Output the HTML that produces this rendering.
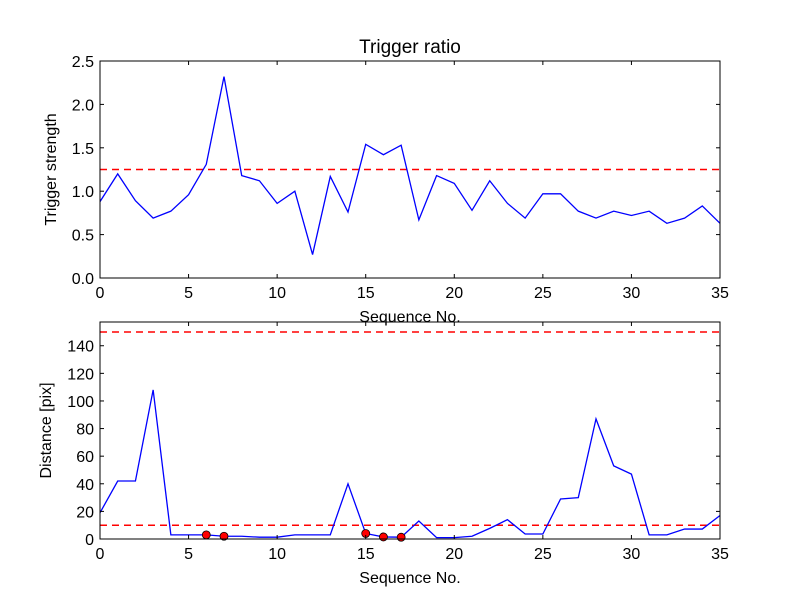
<!DOCTYPE html>
<html><head><meta charset="utf-8"><style>
body{margin:0;background:#fff;}
svg text{font-family:"Liberation Sans","DejaVu Sans",sans-serif;}
</style></head><body>
<svg id="c" width="800" height="600" viewBox="0 0 800 600"></svg>
<script>
const xCats=[];for(let i=0;i<=35;i++)xCats.push(i);
const ratioValues=[0.88,1.20,0.89,0.69,0.77,0.96,1.31,2.32,1.18,1.12,0.86,1.00,0.27,1.17,0.76,1.54,1.42,1.53,0.67,1.18,1.09,0.78,1.12,0.86,0.69,0.97,0.97,0.77,0.69,0.77,0.72,0.77,0.63,0.69,0.83,0.63];
const ratioThreshold=1.25;
const distValues=[19,42,42,108,3,3,3,2,2,1.3,1.3,3,3,3,40,4,1.5,1.3,13,1,1,2,7.7,14,3.6,3.6,29,30,87,53,47,3,3,7.2,7.2,17];
const distThresholds=[10,150];
const markerIdx=[6,7,15,16,17];
const xTicks=[0,5,10,15,20,25,30,35];
const ratioTicks=[0,0.5,1.0,1.5,2.0,2.5];
const ratioTickLabels=["0.0","0.5","1.0","1.5","2.0","2.5"];
const distTicks=[0,20,40,60,80,100,120,140];
const NS="http://www.w3.org/2000/svg";
const svg=document.getElementById('c');
function el(t,a,p){const e=document.createElementNS(NS,t);for(const k in a)e.setAttribute(k,a[k]);(p||svg).appendChild(e);return e;}
function panel(top,bot,ymax,vals,yticks,ylabels,ytitle,thresholds,title,name,markers){
  const L=100,R=720;
  const sx=v=>L+(v-0)/35*(R-L);
  const sy=v=>bot-v/ymax*(bot-top);
  const g=el('g',{});
  
  
  thresholds.forEach(t=>{const l=el('line',{x1:L,x2:R,y1:sy(t),y2:sy(t),stroke:'#ff0000','stroke-width':1.5,'stroke-dasharray':'7,5'},g);
    });
  const p=el('polyline',{points:vals.map((v,i)=>sx(xCats[i])+','+sy(v)).join(' '),fill:'none',stroke:'#0000ff','stroke-width':1.3},g);
  
  if(markers)markers.forEach(i=>{const c=el('circle',{cx:sx(xCats[i]),cy:sy(vals[i]),r:4,fill:'#ff0000',stroke:'#000','stroke-width':0.8},g);
    });
  const f=el('rect',{x:L,y:top,width:R-L,height:bot-top,fill:'none',stroke:'#000','stroke-width':1},g);
  
  xTicks.forEach(t=>{const x=sx(t);
    el('line',{x1:x,x2:x,y1:bot,y2:bot-4,stroke:'#000'},g);el('line',{x1:x,x2:x,y1:top,y2:top+4,stroke:'#000'},g);
    const tx=el('text',{x:x,y:bot+20,'text-anchor':'middle','font-size':16},g);tx.textContent=t;
    });
  yticks.forEach((t,i)=>{const y=sy(t);
    el('line',{x1:L,x2:L+4,y1:y,y2:y,stroke:'#000'},g);el('line',{x1:R,x2:R-4,y1:y,y2:y,stroke:'#000'},g);
    const tx=el('text',{x:L-6,y:y+6,'text-anchor':'end','font-size':16},g);tx.textContent=ylabels[i];
    });
  const xt=el('text',{x:(L+R)/2,y:bot+44,'text-anchor':'middle','font-size':16},g);xt.textContent='Sequence No.';
  
  const yt=el('text',{x:0,y:0,'text-anchor':'middle','font-size':16,transform:'translate('+(ytitle.x)+','+((top+bot)/2)+') rotate(-90)'},g);yt.textContent=ytitle.t;
  
  if(title){const tt=el('text',{x:(L+R)/2,y:top-8,'text-anchor':'middle','font-size':19},g);tt.textContent=title;
    }
}
panel(61,278,2.5,ratioValues,ratioTicks,ratioTickLabels,{t:'Trigger strength',x:56},[ratioThreshold],'Trigger ratio','trigger-ratio-panel',null);
panel(322,539,157.2,distValues,distTicks,distTicks.map(String),{t:'Distance [pix]',x:51},distThresholds,null,'distance-panel',markerIdx);
</script>
</body></html>
